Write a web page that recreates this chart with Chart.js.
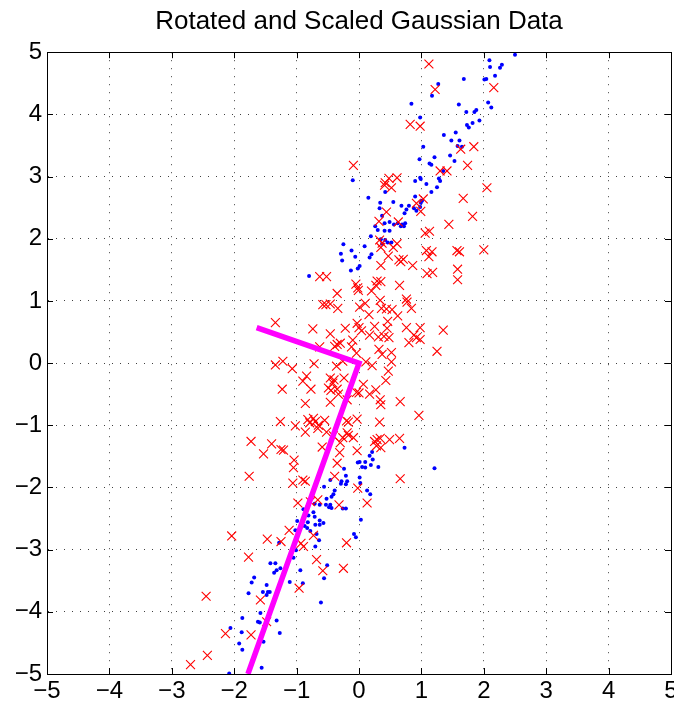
<!DOCTYPE html>
<html>
<head>
<meta charset="utf-8">
<title>Rotated and Scaled Gaussian Data</title>
<script src="https://cdn.jsdelivr.net/npm/chart.js@4.4.1/dist/chart.umd.min.js"></script>
<style>
  html, body { margin: 0; padding: 0; background: #fff; }
</style>
</head>
<body>
<canvas id="gaussChart" width="674" height="708"></canvas>
<script>
// class 1 samples (blue dots)
const bluePoints = [
  [2.50,4.96],[2.09,4.87],[2.29,4.80],[2.26,4.75],[2.10,4.76],[2.18,4.62],[2.04,4.57],[2.01,4.56],
  [1.68,4.57],[1.27,4.49],[1.17,4.30],[2.07,4.19],[2.12,4.11],[0.84,4.17],[1.60,4.16],[1.72,4.04],
  [1.85,4.04],[1.88,4.07],[1.93,3.90],[1.82,3.86],[1.73,3.83],[1.76,3.79],[0.98,3.95],[1.55,3.71],
  [1.36,3.67],[1.48,3.58],[1.61,3.58],[1.58,3.49],[1.65,3.48],[1.03,3.48],[1.46,3.34],[1.53,3.25],
  [1.21,3.31],[0.97,3.28],[1.13,3.21],[1.16,3.19],[1.35,3.09],[-0.10,2.94],[0.98,2.98],[0.99,2.96],
  [0.90,2.93],[1.28,2.97],[1.30,2.93],[1.08,2.88],[1.25,2.83],[1.16,2.75],[0.42,2.75],[0.15,2.66],
  [0.34,2.58],[0.55,2.59],[0.90,2.68],[0.99,2.58],[1.01,2.61],
  [0.33,2.49],[0.68,2.53],[0.80,2.53],[0.76,2.47],[0.73,2.41],[0.88,2.49],[0.92,2.45],[0.98,2.51],
  [0.37,2.37],[0.41,2.25],[0.49,2.27],[0.62,2.25],[0.56,2.23],[0.69,2.23],[0.74,2.25],[0.72,2.20],
  [0.67,2.20],[0.26,2.20],[0.30,2.14],[0.41,2.13],[0.49,2.13],[0.19,2.04],[0.35,1.99],[0.42,1.98],
  [0.46,1.94],[0.52,1.94],[0.37,1.92],[-0.25,1.91],[0.09,1.88],[-0.12,1.81],[-0.29,1.76],[0.20,1.75],
  [0.17,1.70],[-0.06,1.71],[-0.27,1.65],[0.01,1.56],[-0.02,1.52],[-0.13,1.49],[-0.80,1.40],
  [0.73,-1.36],[1.21,-1.69],[0.21,-1.43],[0.17,-1.49],[0.22,-1.55],[0.31,-1.67],[0.19,-1.64],[-0.02,-1.60],
  [0.01,-1.59],[0.05,-1.67],[0.10,-1.59],[0.10,-1.68],[-0.24,-1.70],[-0.21,-1.81],[-0.28,-1.90],[-0.29,-1.94],
  [-0.19,-1.90],[-0.21,-1.95],[-0.46,-1.88],[-0.56,-1.99],[0.01,-1.84],[0.02,-1.93],[0.13,-2.05],[0.18,-2.11],
  [-0.39,-2.05],[-0.41,-2.11],[-0.44,-2.15],[-0.52,-2.18],
  [-0.71,-2.26],[-0.63,-2.28],[-0.53,-2.28],[-0.46,-2.28],[-0.48,-2.32],[-0.44,-2.33],[-0.26,-2.34],[-0.21,-2.34],
  [-0.89,-2.35],[-0.73,-2.40],[-0.81,-2.45],[-0.71,-2.47],[-0.63,-2.53],[-0.57,-2.57],[-0.82,-2.56],[-0.99,-2.54],
  [-0.70,-2.60],[-0.63,-2.60],[-0.87,-2.62],[-0.83,-2.65],[0.03,-2.52],[-0.94,-2.65],[-1.02,-2.69],[-0.78,-2.70],
  [-0.68,-2.75],[-0.08,-2.75],[-0.05,-2.80],[-0.64,-2.85],[-1.28,-2.89],[-0.70,-2.95],[-1.01,-3.01],[-1.05,-3.13],
  [-1.42,-3.22],[-1.34,-3.22],[-1.26,-3.30],[-1.32,-3.33],[-1.36,-3.37],[-0.94,-3.33],[-0.51,-3.25],[-1.68,-3.45],
  [-1.72,-3.53],[-1.11,-3.52],[-0.90,-3.54],[-0.56,-3.46],[-1.48,-3.57],[-1.77,-3.70],[-1.54,-3.68],[-1.46,-3.68],
  [-1.43,-3.68],[-1.48,-3.73],[-0.61,-3.85],[-1.58,-4.02],[-1.87,-4.10],[-1.62,-4.16],[-1.59,-4.17],[-1.32,-4.14],
  [-2.06,-4.26],[-1.88,-4.33],[-1.27,-4.34],[-1.53,-4.48],[-1.92,-4.51],[-1.87,-4.61],[-1.56,-4.90],[-2.08,-4.99]
];

// class 2 samples (red crosses)
const redPoints = [
  [1.12,4.81],[1.22,4.40],[2.16,4.43],[0.82,3.84],[0.98,3.81],[1.84,3.48],[1.63,3.44],[-0.09,3.18],
  [1.74,3.18],[1.30,3.09],[1.41,3.09],[2.05,2.82],[0.48,2.97],[0.61,2.98],[0.42,2.90],[0.41,2.86],
  [0.52,2.82],[1.67,2.65],[1.03,2.64],[0.92,2.57],
  [0.44,2.43],[0.99,2.44],[1.82,2.36],[1.44,2.23],[0.32,2.28],[0.63,2.27],[1.06,2.09],[1.13,2.12],
  [0.33,1.98],[0.37,1.93],[0.61,1.92],[0.55,1.86],[0.35,1.86],[1.08,1.81],[1.17,1.79],[1.12,1.71],
  [1.57,1.81],[1.61,1.79],[2.00,1.82],[0.47,1.72],[0.64,1.66],[0.71,1.67],[0.67,1.63],[0.35,1.57],
  [0.86,1.57],[1.09,1.44],[1.18,1.46],[1.58,1.51],[1.58,1.34],[-0.63,1.39],[-0.52,1.39],[-0.05,1.27],
  [-0.02,1.21],[-0.01,1.17],[0.29,1.32],[0.35,1.31],[0.27,1.25],[0.20,1.16],[0.65,1.25],[-0.35,1.12],
  [0.76,1.03],[0.77,0.98],[0.84,0.88],[0.34,1.01],[-0.58,0.94],[-0.53,0.94],[-0.46,0.95],[-0.34,0.88],
  [0.01,0.90],[0.10,0.96],[0.36,0.88],[0.44,0.87],[0.53,0.86],[0.16,0.78],[0.62,0.76],[-0.74,0.55],
  [-0.46,0.47],[-0.22,0.56],[-0.03,0.64],[0.00,0.57],[0.04,0.52],[0.25,0.59],[0.46,0.67],[0.45,0.56],
  [0.76,0.57],[0.98,0.57],[1.35,0.53],[0.88,0.45],[0.92,0.41],[0.98,0.38],[0.80,0.33],[0.17,0.45],
  [0.31,0.42],[0.40,0.43],[0.48,0.41],[0.32,0.22],[0.37,0.14],[0.52,0.17],[-0.10,0.37],[-0.04,0.16],
  [-0.12,0.26],[-0.35,0.30],[-0.30,0.32],[-0.39,0.27],[-0.63,0.26],[1.25,0.19],[-1.22,0.03],[-0.26,0.03],
  [0.11,0.02],[0.52,0.02],[-1.34,0.65],
  [-1.34,-0.03],[-1.07,-0.09],[-0.72,-0.01],[-0.36,-0.05],[0.21,-0.04],[0.47,-0.13],[0.43,-0.28],[-0.84,-0.21],
  [-0.90,-0.29],[-0.77,-0.42],[-1.23,-0.42],[-0.46,-0.24],[-0.40,-0.27],[-0.42,-0.32],[-0.49,-0.40],[-0.45,-0.44],
  [-0.35,-0.42],[-0.24,-0.24],[-0.33,-0.50],[-0.04,-0.47],[0.00,-0.48],[0.07,-0.34],[0.17,-0.50],[0.27,-0.43],
  [0.34,-0.59],[0.35,-0.67],[0.66,-0.62],[-0.86,-0.65],[-0.46,-0.63],[-0.19,-0.59],[0.96,-0.84],[-1.26,-0.94],
  [-1.02,-1.01],[-0.82,-0.91],[-0.79,-0.96],[-0.73,-0.89],[-0.70,-0.94],[-0.65,-1.00],[-0.66,-1.05],[-0.55,-0.92],
  [-0.86,-1.11],[-0.20,-0.93],[-0.17,-0.95],[-0.03,-0.90],[0.33,-0.95],[-0.52,-1.11],[-0.41,-1.17],[-0.19,-1.12],
  [-0.26,-1.20],[-0.17,-1.16],[-0.09,-1.20],[-0.30,-1.28],[0.25,-1.26],[0.29,-1.23],[0.34,-1.21],[0.28,-1.33],
  [0.35,-1.36],[0.49,-1.23],[0.65,-1.21],[-1.73,-1.26],[-1.40,-1.30],[-1.25,-1.39],[-1.21,-1.40],[-1.53,-1.46],
  [-0.59,-1.35],[-0.31,-1.44],[-0.03,-1.41],[-1.04,-1.56],[-1.05,-1.68],[-0.35,-1.61],[-1.76,-1.82],[-1.06,-1.93],
  [-0.90,-1.88],[-0.86,-1.90],[-0.39,-1.82],[0.66,-1.86],[-0.02,-2.01],
  [-0.98,-2.25],[-0.78,-2.23],[-0.66,-2.20],[-0.32,-2.28],[0.13,-2.25],[-2.04,-2.78],[-1.47,-2.83],[-1.12,-2.69],
  [-1.25,-2.87],[-0.73,-2.77],[-0.93,-2.90],[-0.89,-2.95],[-0.20,-2.89],[-1.77,-3.12],[-0.68,-3.16],[-0.58,-3.34],
  [-0.25,-3.30],[-0.96,-3.62],[-1.58,-3.81],[-2.45,-3.75],[-1.48,-4.16],[-2.14,-4.35],[-1.73,-4.37],[-2.43,-4.70],
  [-2.70,-4.85]
];

// principal directions drawn from the origin (short one, corner, long one)
const axisLine = [[-1.64, 0.57], [0, 0], [-1.78, -5]];

const tickValues = [-5, -4, -3, -2, -1, 0, 1, 2, 3, 4, 5];
const tickLabels = ['\u22125', '\u22124', '\u22123', '\u22122', '\u22121', '0', '1', '2', '3', '4', '5'];

const FONT = "'Liberation Sans', Arial, Helvetica, sans-serif";
const toXY = pts => pts.map(p => ({ x: p[0], y: p[1] }));
const setTicks = scale => { scale.ticks = tickValues.map(v => ({ value: v })); };
const tickText = v => tickLabels[tickValues.indexOf(v)];

// short inward tick marks on all four sides of the box
const boxTicks = {
  id: 'boxTicks',
  afterDraw(chart) {
    const { ctx, chartArea: a, scales } = chart;
    const len = 6;
    ctx.save();
    ctx.strokeStyle = '#000';
    ctx.lineWidth = 1;
    ctx.beginPath();
    tickValues.forEach(v => {
      const px = Math.round(scales.x.getPixelForValue(v)) + 0.5;
      const py = Math.round(scales.y.getPixelForValue(v)) + 0.5;
      ctx.moveTo(px, a.bottom); ctx.lineTo(px, a.bottom - len);
      ctx.moveTo(px, a.top); ctx.lineTo(px, a.top + len);
      ctx.moveTo(a.left, py); ctx.lineTo(a.left + len, py);
      ctx.moveTo(a.right, py); ctx.lineTo(a.right - len, py);
    });
    ctx.stroke();
    ctx.restore();
  }
};

const gridOpts = { color: 'rgba(0,0,0,0.75)', lineWidth: 1, drawTicks: false };
const borderOpts = { display: true, color: '#000', width: 1, dash: [1, 7] };

new Chart(document.getElementById('gaussChart'), {
  type: 'scatter',
  data: {
    datasets: [
      {
        type: 'line',
        label: 'axes',
        data: toXY(axisLine),
        borderColor: '#ff00ff',
        borderWidth: 5.5,
        pointRadius: 0,
        fill: false,
        tension: 0,
        order: 1
      },
      {
        label: 'class 2',
        data: toXY(redPoints),
        pointStyle: 'crossRot',
        pointRadius: 6.3,
        borderColor: '#ff0000',
        backgroundColor: '#ff0000',
        borderWidth: 1.1,
        order: 2
      },
      {
        label: 'class 1',
        data: toXY(bluePoints),
        pointStyle: 'circle',
        pointRadius: 2,
        borderWidth: 0,
        backgroundColor: '#0000ff',
        borderColor: '#0000ff',
        order: 3
      }
    ]
  },
  options: {
    responsive: false,
    animation: false,
    events: [],
    layout: { autoPadding: false, padding: { left: 0, right: 3, top: 0, bottom: 0 } },
    plugins: {
      legend: { display: false },
      tooltip: { enabled: false },
      title: {
        display: true,
        fullSize: false,
        text: 'Rotated and Scaled Gaussian Data',
        color: '#000',
        font: { family: FONT, size: 26, weight: 'normal' },
        padding: { top: 6, bottom: 15 }
      }
    },
    scales: {
      x: {
        type: 'linear', position: 'bottom', min: -5, max: 5,
        afterBuildTicks: setTicks,
        afterFit: s => { s.height = 34; s.paddingLeft = 0; s.paddingRight = 0; },
        ticks: { callback: tickText, color: '#000', padding: 3, maxRotation: 0, autoSkip: false,
                 font: { family: FONT, size: 24 } },
        grid: gridOpts,
        border: borderOpts
      },
      y: {
        type: 'linear', position: 'left', min: -5, max: 5,
        afterBuildTicks: setTicks,
        afterFit: s => { s.width = 47; },
        ticks: { callback: tickText, color: '#000', padding: 5, autoSkip: false,
                 font: { family: FONT, size: 24 } },
        grid: gridOpts,
        border: borderOpts
      },
      x2: {
        type: 'linear', position: 'top', min: -5, max: 5,
        afterFit: s => { s.height = 0; s.paddingLeft = 0; s.paddingRight = 0; },
        ticks: { display: false },
        grid: { display: false, drawTicks: false },
        border: { display: true, color: '#000', width: 1 }
      },
      y2: {
        type: 'linear', position: 'right', min: -5, max: 5,
        afterFit: s => { s.width = 0; },
        ticks: { display: false },
        grid: { display: false, drawTicks: false },
        border: { display: true, color: '#000', width: 1 }
      }
    }
  },
  plugins: [boxTicks]
});
</script>
</body>
</html>
